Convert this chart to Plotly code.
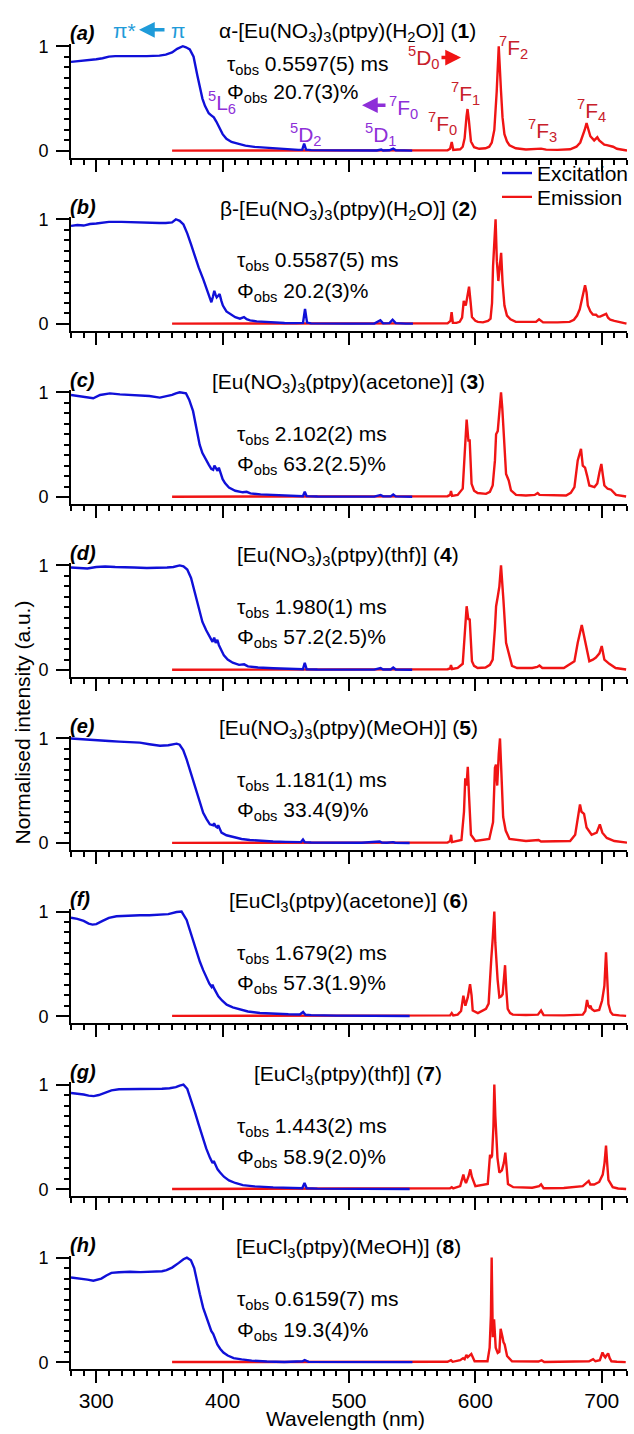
import plotly.graph_objects as go

# ---------------- data ----------------
PANEL_LETTERS = ["(a)", "(b)", "(c)", "(d)", "(e)", "(f)", "(g)", "(h)"]
TITLES = [
    "α-[Eu(NO<sub>3</sub>)<sub>3</sub>(ptpy)(H<sub>2</sub>O)] (<b>1</b>)",
    "β-[Eu(NO<sub>3</sub>)<sub>3</sub>(ptpy)(H<sub>2</sub>O)] (<b>2</b>)",
    "[Eu(NO<sub>3</sub>)<sub>3</sub>(ptpy)(acetone)] (<b>3</b>)",
    "[Eu(NO<sub>3</sub>)<sub>3</sub>(ptpy)(thf)] (<b>4</b>)",
    "[Eu(NO<sub>3</sub>)<sub>3</sub>(ptpy)(MeOH)] (<b>5</b>)",
    "[EuCl<sub>3</sub>(ptpy)(acetone)] (<b>6</b>)",
    "[EuCl<sub>3</sub>(ptpy)(thf)] (<b>7</b>)",
    "[EuCl<sub>3</sub>(ptpy)(MeOH)] (<b>8</b>)",
]
TAU = ["0.5597(5) ms", "0.5587(5) ms", "2.102(2) ms", "1.980(1) ms",
       "1.181(1) ms", "1.679(2) ms", "1.443(2) ms", "0.6159(7) ms"]
PHI = ["20.7(3)%", "20.2(3)%", "63.2(2.5)%", "57.2(2.5)%",
       "33.4(9)%", "57.3(1.9)%", "58.9(2.0)%", "19.3(4)%"]

EXC_A_NM = [280, 285, 290, 295, 300, 305, 310, 315, 320, 330, 340, 350, 355, 360, 364, 368.5, 371, 374, 377, 380, 382, 384, 386, 389, 391, 393, 395, 397, 400, 403, 407, 412, 418, 425, 435, 450, 460, 463, 464.5, 466, 470, 490, 510, 522, 525.5, 527, 532, 535, 537, 545, 550]
EXC_A_I = [0.85, 0.855, 0.86, 0.865, 0.875, 0.885, 0.9, 0.905, 0.905, 0.9, 0.905, 0.91, 0.92, 0.94, 0.975, 1.0, 0.99, 0.97, 0.9, 0.72, 0.6, 0.5, 0.43, 0.36, 0.34, 0.32, 0.28, 0.23, 0.16, 0.115, 0.085, 0.07, 0.05, 0.038, 0.028, 0.015, 0.01, 0.012, 0.07, 0.012, 0.007, 0.005, 0.004, 0.004, 0.013, 0.004, 0.006, 0.022, 0.006, 0.003, 0.003]
EMI_A_NM = [360, 450, 550, 578, 580, 581.3, 582.5, 588, 590, 591.5, 593, 593.8, 594.8, 596.5, 599, 603, 608, 611, 613, 615, 616.9, 618.5, 620.3, 621.5, 623, 625, 627, 632, 640, 648, 652, 656, 665, 675, 680, 683, 685, 686.5, 688, 689.5, 691, 694, 696.5, 698, 700, 702, 704, 707, 709, 712, 716, 720]
EMI_A_I = [0.003, 0.003, 0.003, 0.005, 0.02, 0.085, 0.01, 0.015, 0.04, 0.12, 0.33, 0.40, 0.3, 0.09, 0.035, 0.02, 0.025, 0.04, 0.08, 0.2, 0.57, 1.0, 0.57, 0.32, 0.16, 0.09, 0.054, 0.025, 0.013, 0.015, 0.022, 0.012, 0.01, 0.015, 0.04, 0.08, 0.14, 0.2, 0.265, 0.2, 0.14, 0.1, 0.13, 0.1, 0.076, 0.06, 0.055, 0.045, 0.04, 0.02, 0.01, 0.003]

EXC_B_NM = [280, 285, 290, 295, 300, 305, 310, 320, 330, 340, 350, 355, 360, 363, 366, 369, 372, 375, 378, 381, 384.7, 387, 389.5, 391.1, 392.3, 393.4, 394.4, 395.3, 396.5, 397.6, 399, 400.2, 403, 405.6, 410, 413.7, 416.9, 419, 421.7, 427, 433, 441, 449, 458, 463.6, 465.2, 466.8, 470, 481, 500, 520, 524.8, 527, 532, 534.5, 537, 545, 550.6]
EXC_B_I = [0.937, 0.945, 0.94, 0.955, 0.96, 0.965, 0.975, 0.975, 0.97, 0.97, 0.965, 0.965, 0.97, 1.0, 0.985, 0.95, 0.865, 0.76, 0.646, 0.54, 0.426, 0.35, 0.27, 0.207, 0.26, 0.317, 0.28, 0.254, 0.27, 0.285, 0.22, 0.176, 0.12, 0.097, 0.065, 0.05, 0.066, 0.045, 0.034, 0.025, 0.019, 0.014, 0.009, 0.008, 0.01, 0.144, 0.013, 0.006, 0.003, 0.003, 0.004, 0.035, 0.006, 0.008, 0.04, 0.008, 0.003, 0.003]
EMI_B_NM = [360, 450, 550, 578, 580.3, 581.2, 582.2, 585, 587.6, 589.5, 590.8, 592.4, 593.5, 595, 596.3, 597.3, 600, 602, 606, 610, 612, 613.2, 614, 615, 616, 617, 618.2, 619.3, 620.4, 621.5, 623, 625, 627.8, 632, 642.3, 648, 650.4, 653.6, 665, 674.6, 678, 680.5, 682.6, 684.5, 686.8, 688, 689, 691, 693, 695.5, 697, 698.7, 701, 703.5, 705, 706.8, 710, 714, 719.6]
EMI_B_I = [0.003, 0.003, 0.003, 0.006, 0.03, 0.113, 0.01, 0.01, 0.02, 0.06, 0.22, 0.176, 0.25, 0.357, 0.2, 0.066, 0.03, 0.02, 0.015, 0.03, 0.05, 0.2, 0.55, 0.8, 1.0, 0.6, 0.41, 0.55, 0.68, 0.4, 0.176, 0.08, 0.044, 0.02, 0.02, 0.02, 0.044, 0.015, 0.015, 0.02, 0.04, 0.08, 0.14, 0.25, 0.37, 0.3, 0.176, 0.12, 0.09, 0.088, 0.07, 0.07, 0.08, 0.097, 0.06, 0.04, 0.03, 0.02, 0.003]

EXC_C_NM = [280, 287, 292, 297.6, 303, 310.8, 318.7, 326, 334.5, 342, 350.3, 355.5, 360, 363, 366, 371, 373.5, 376.6, 379, 381.8, 384, 386.5, 389, 391, 392.5, 393.5, 394.7, 396, 397, 398.5, 400, 402, 405, 410, 416, 419, 422, 430, 440, 455, 463.5, 465, 466.5, 475, 500, 520, 525, 527, 533, 535, 537, 545, 550]
EXC_C_I = [0.975, 0.96, 0.955, 0.943, 0.975, 0.99, 0.98, 0.975, 0.97, 0.965, 0.95, 0.96, 0.975, 0.99, 1.0, 0.99, 0.93, 0.82, 0.68, 0.5, 0.42, 0.36, 0.31, 0.27, 0.26, 0.3, 0.27, 0.25, 0.28, 0.22, 0.17, 0.13, 0.09, 0.06, 0.045, 0.05, 0.035, 0.025, 0.018, 0.01, 0.008, 0.05, 0.008, 0.005, 0.004, 0.004, 0.02, 0.006, 0.006, 0.025, 0.006, 0.003, 0.003]
EMI_C_NM = [360, 450, 550, 578, 580, 580.7, 581.6, 586, 590, 591.8, 593.1, 594.5, 595.5, 597, 599, 601.8, 608.4, 611.5, 613.7, 615.5, 616.4, 617.7, 619, 620.3, 621.3, 622.2, 624.3, 626.4, 628.2, 632.2, 640, 647, 649.3, 650.7, 660, 671.8, 675.5, 678.4, 681, 683.6, 685, 686.8, 688.5, 690.2, 694.2, 696.5, 698.2, 699.7, 701, 702.1, 704.7, 707.4, 711.3, 719.3]
EMI_C_I = [0.003, 0.003, 0.003, 0.008, 0.02, 0.057, 0.01, 0.02, 0.08, 0.44, 0.74, 0.54, 0.54, 0.126, 0.06, 0.038, 0.03, 0.05, 0.11, 0.35, 0.6, 0.63, 0.8, 1.0, 0.85, 0.66, 0.22, 0.158, 0.063, 0.02, 0.015, 0.02, 0.038, 0.02, 0.015, 0.015, 0.04, 0.095, 0.35, 0.46, 0.3, 0.28, 0.2, 0.11, 0.095, 0.13, 0.237, 0.316, 0.2, 0.11, 0.079, 0.07, 0.02, 0.005]

EXC_D_NM = [280, 287, 293, 300, 307, 315, 322, 330, 340, 350, 356, 361, 366, 369, 372, 375, 378, 381, 384, 387, 390, 392, 393.3, 394.5, 395.8, 397, 399, 401, 404, 408, 413, 417, 420, 428, 440, 455, 463.5, 465, 466.5, 475, 500, 520, 525, 527, 533, 535, 537, 545, 550]
EXC_D_I = [0.98, 0.975, 0.97, 0.985, 0.99, 0.985, 0.98, 0.98, 0.975, 0.975, 0.98, 0.985, 1.0, 0.99, 0.96, 0.88, 0.74, 0.58, 0.46, 0.38, 0.31, 0.27, 0.31, 0.26, 0.29, 0.24, 0.19, 0.14, 0.1, 0.07, 0.05, 0.055, 0.035, 0.025, 0.018, 0.01, 0.008, 0.07, 0.008, 0.005, 0.004, 0.004, 0.02, 0.006, 0.006, 0.025, 0.006, 0.003, 0.003]
EMI_D_NM = [360, 450, 550, 578, 580, 580.7, 581.6, 586, 590, 591.8, 593.1, 594.5, 595.5, 597.3, 599, 601.8, 608, 611.5, 613.7, 615.5, 616.4, 617.7, 619, 620.3, 621.3, 622.2, 624.3, 626.4, 629, 633, 645, 649, 650.7, 653, 670, 678.4, 681, 684.2, 686.3, 688, 690.2, 693, 695.4, 698.2, 700, 702.1, 706, 711, 719.3]
EMI_D_I = [0.003, 0.003, 0.003, 0.008, 0.015, 0.047, 0.01, 0.02, 0.06, 0.354, 0.61, 0.48, 0.49, 0.085, 0.04, 0.02, 0.025, 0.05, 0.1, 0.4, 0.61, 0.7, 0.8, 1.0, 0.85, 0.67, 0.26, 0.15, 0.04, 0.02, 0.02, 0.03, 0.044, 0.02, 0.02, 0.085, 0.26, 0.43, 0.32, 0.2, 0.085, 0.1, 0.12, 0.16, 0.23, 0.1, 0.06, 0.02, 0.005]

EXC_E_NM = [280, 285, 290, 296, 302, 310, 318, 326, 334.5, 342, 350.4, 357, 363.6, 366, 368.8, 371.5, 374, 376.7, 379.4, 382, 384.6, 387.3, 389.9, 392.5, 393.2, 394.5, 395.7, 396.5, 397.5, 399.1, 403, 408.3, 415, 421.5, 430, 439.9, 450, 462, 463.6, 465, 470, 490, 510, 524.3, 526, 530, 534.8, 536.5, 548]
EXC_E_I = [1.0, 0.995, 0.99, 0.985, 0.98, 0.975, 0.97, 0.965, 0.96, 0.945, 0.93, 0.935, 0.95, 0.94, 0.89, 0.8, 0.7, 0.59, 0.48, 0.38, 0.29, 0.23, 0.18, 0.17, 0.19, 0.16, 0.15, 0.17, 0.14, 0.1, 0.075, 0.057, 0.04, 0.03, 0.022, 0.016, 0.012, 0.01, 0.035, 0.01, 0.006, 0.004, 0.004, 0.016, 0.005, 0.004, 0.01, 0.004, 0.002]
EMI_E_NM = [360, 450, 550, 578, 580, 580.8, 581.5, 589, 591, 592, 593, 594, 595, 596.5, 600, 611, 614, 615.5, 616.3, 617.3, 618.5, 619.5, 620.5, 622, 624, 627, 640, 650, 652, 675, 679, 681, 682.8, 684, 686, 688, 692, 696, 698.5, 700.5, 704, 710, 720]
EMI_E_I = [0.003, 0.003, 0.003, 0.006, 0.02, 0.08, 0.01, 0.03, 0.3, 0.62, 0.55, 0.73, 0.45, 0.08, 0.02, 0.04, 0.2, 0.72, 0.75, 0.55, 0.85, 1.0, 0.7, 0.25, 0.12, 0.04, 0.02, 0.03, 0.015, 0.02, 0.08, 0.25, 0.37, 0.3, 0.28, 0.15, 0.08, 0.1, 0.18, 0.1, 0.05, 0.02, 0.005]

EXC_F_NM = [280, 285, 290, 294, 297, 300, 305, 310, 316, 322, 330, 334.5, 342, 350.4, 357, 363.6, 367.5, 371.5, 374, 376.8, 379.5, 382, 384.6, 387.3, 389.5, 391.2, 392, 393, 394.5, 396.6, 399.5, 403.2, 408, 413.7, 420, 429.5, 440, 452, 461.1, 463.7, 465.5, 470, 490, 520, 525, 528, 535, 537, 548]
EXC_F_I = [0.94, 0.93, 0.91, 0.885, 0.875, 0.88, 0.91, 0.94, 0.955, 0.96, 0.965, 0.964, 0.965, 0.97, 0.975, 0.995, 1.0, 0.92, 0.82, 0.71, 0.61, 0.52, 0.44, 0.36, 0.31, 0.28, 0.3, 0.27, 0.24, 0.19, 0.15, 0.11, 0.085, 0.063, 0.045, 0.03, 0.022, 0.018, 0.016, 0.04, 0.014, 0.01, 0.006, 0.005, 0.008, 0.005, 0.004, 0.006, 0.002]
EMI_F_NM = [360, 450, 550, 575, 580, 581.3, 582.5, 586, 588.7, 590.5, 591.3, 592.1, 594, 595.8, 597, 597.9, 602, 608.4, 610.5, 611.6, 612.6, 613.8, 615, 615.8, 616.4, 617.6, 619, 620.5, 621.6, 622.7, 623.5, 624.5, 625.6, 627.5, 629.6, 640, 649.5, 652, 654, 670, 685, 687, 688.4, 689.3, 690.2, 691.1, 692, 694.2, 698, 700.3, 702.1, 703.4, 704.3, 705.3, 707, 708.7, 714, 719.3]
EMI_F_I = [0.003, 0.003, 0.003, 0.005, 0.008, 0.03, 0.008, 0.015, 0.05, 0.196, 0.15, 0.1, 0.18, 0.306, 0.2, 0.054, 0.03, 0.07, 0.12, 0.4, 0.55, 0.75, 1.0, 0.7, 0.54, 0.35, 0.18, 0.19, 0.21, 0.35, 0.487, 0.25, 0.07, 0.03, 0.015, 0.012, 0.015, 0.054, 0.01, 0.008, 0.015, 0.05, 0.155, 0.1, 0.085, 0.1, 0.07, 0.05, 0.06, 0.15, 0.29, 0.61, 0.4, 0.117, 0.04, 0.015, 0.008, 0.003]

EXC_G_NM = [280, 285, 290, 294, 298, 302, 307, 312, 318, 325, 335, 345, 352, 358, 363, 366, 369, 372, 375, 378, 381, 384, 387, 390, 392, 393, 394.5, 396, 398, 401, 405, 410, 416, 425, 440, 455, 463, 464.8, 466.5, 475, 500, 520, 526, 530, 535, 537, 548]
EXC_G_I = [0.92, 0.915, 0.905, 0.895, 0.89, 0.9, 0.925, 0.945, 0.955, 0.955, 0.955, 0.955, 0.96, 0.965, 0.975, 0.99, 1.0, 0.96, 0.86, 0.74, 0.62, 0.5, 0.39, 0.3, 0.25, 0.27, 0.22, 0.19, 0.16, 0.12, 0.085, 0.06, 0.04, 0.028, 0.018, 0.012, 0.01, 0.06, 0.01, 0.006, 0.004, 0.004, 0.008, 0.004, 0.007, 0.005, 0.002]
EMI_G_NM = [360, 450, 550, 575, 580, 581.3, 582.5, 588, 590.5, 591.5, 592.6, 594.5, 596, 597.2, 600, 609.8, 611, 611.6, 612.4, 613.2, 614.3, 615, 615.8, 616.4, 617.5, 619, 621, 622.5, 623.7, 624.8, 625.8, 630, 645, 650.5, 652, 654, 670, 685, 688.2, 689.7, 691, 694, 698, 700.8, 702.2, 703.4, 704.3, 705.3, 708.7, 713, 719.3]
EMI_G_I = [0.003, 0.003, 0.003, 0.005, 0.01, 0.02, 0.008, 0.03, 0.14, 0.09, 0.06, 0.12, 0.19, 0.12, 0.03, 0.05, 0.2, 0.33, 0.3, 0.32, 0.6, 1.0, 0.7, 0.5, 0.3, 0.16, 0.18, 0.25, 0.35, 0.2, 0.05, 0.02, 0.015, 0.03, 0.047, 0.01, 0.012, 0.03, 0.06, 0.08, 0.045, 0.045, 0.07, 0.14, 0.25, 0.417, 0.25, 0.09, 0.02, 0.008, 0.003]

EXC_H_NM = [280, 288, 293, 297.7, 304, 308, 312, 318, 326.7, 335, 346, 352, 355.6, 360, 365.3, 369, 371.7, 374.9, 377.5, 379.7, 382, 384.6, 387, 389.4, 391, 392.6, 394, 395.8, 398, 400.6, 404, 408.7, 415, 423, 435, 448.9, 463.3, 464.9, 468, 480, 500, 520, 535, 550.2]
EXC_H_I = [0.81, 0.80, 0.79, 0.78, 0.80, 0.83, 0.855, 0.86, 0.865, 0.862, 0.865, 0.87, 0.88, 0.905, 0.95, 0.985, 1.0, 0.975, 0.9, 0.77, 0.65, 0.52, 0.43, 0.34, 0.3, 0.27, 0.23, 0.17, 0.13, 0.094, 0.065, 0.04, 0.028, 0.016, 0.008, 0.003, 0.01, 0.022, 0.004, 0.003, 0.003, 0.003, 0.005, 0.002]
EMI_H_NM = [360, 450, 550, 578, 580.7, 582, 588, 590.3, 591.5, 592.9, 594, 595.2, 596.8, 599.4, 609.6, 611.3, 612.3, 612.9, 613.4, 613.8, 614.8, 615.5, 616.1, 617.7, 619, 620, 620.8, 621.5, 622.3, 623.2, 625.1, 629, 650, 652.4, 654.5, 683.6, 690, 693.2, 695, 698.5, 700.6, 702, 702.8, 704, 705.1, 706.3, 707.7, 712, 719]
EMI_H_I = [0.003, 0.003, 0.003, 0.005, 0.02, 0.005, 0.02, 0.04, 0.03, 0.07, 0.05, 0.06, 0.08, 0.01, 0.01, 0.14, 0.45, 1.0, 0.5, 0.24, 0.41, 0.25, 0.14, 0.09, 0.1, 0.32, 0.25, 0.24, 0.19, 0.17, 0.06, 0.01, 0.008, 0.02, 0.003, 0.003, 0.01, 0.03, 0.01, 0.02, 0.094, 0.06, 0.047, 0.07, 0.085, 0.04, 0.01, 0.005, 0.002]

EXCITATION = [(EXC_A_NM, EXC_A_I), (EXC_B_NM, EXC_B_I), (EXC_C_NM, EXC_C_I), (EXC_D_NM, EXC_D_I),
              (EXC_E_NM, EXC_E_I), (EXC_F_NM, EXC_F_I), (EXC_G_NM, EXC_G_I), (EXC_H_NM, EXC_H_I)]
EMISSION = [(EMI_A_NM, EMI_A_I), (EMI_B_NM, EMI_B_I), (EMI_C_NM, EMI_C_I), (EMI_D_NM, EMI_D_I),
            (EMI_E_NM, EMI_E_I), (EMI_F_NM, EMI_F_I), (EMI_G_NM, EMI_G_I), (EMI_H_NM, EMI_H_I)]

# ---------------- layout geometry (pixels) ----------------
W, H = 634, 1434
ML, MR = 71, 7
PW = W - ML - MR
Y0_FIRST, PANEL_STEP, UNIT = 144.0, 174.4, 105.5
YMIN, YMAX = -0.065, 1.02
FONT = "Liberation Sans, Arial, Helvetica, sans-serif"
BLUE, RED = "#1010d8", "#f01414"
LBL_BLUE, LBL_PURPLE, LBL_RED = "#1f9bd9", "#8e2fd8", "#c8202a"


def px(x, y):
    return (x - ML) / PW, 1 - y / H


fig = go.Figure()
layout = dict(width=W, height=H, margin=dict(l=ML, r=MR, t=0, b=0),
              paper_bgcolor="white", plot_bgcolor="white",
              font=dict(family=FONT, color="black", size=20),
              showlegend=True)
annotations = []

for k in range(8):
    sfx = "" if k == 0 else str(k + 1)
    y0 = Y0_FIRST + PANEL_STEP * k
    top_px = y0 - YMAX * UNIT
    bot_px = y0 - YMIN * UNIT
    layout["xaxis" + sfx] = dict(
        domain=[0, 1], range=[280, 720], anchor="y" + sfx,
        showline=True, linecolor="black", linewidth=2, mirror=False,
        ticks="outside", ticklen=12, tickwidth=2, tickcolor="black",
        tick0=0, dtick=100, showticklabels=(k == 7), tickfont=dict(size=21),
        showgrid=False, zeroline=False,
        minor=dict(dtick=10, ticklen=5, tickwidth=2, tickcolor="black", ticks="outside", showgrid=False))
    layout["yaxis" + sfx] = dict(
        domain=[1 - bot_px / H, 1 - top_px / H], range=[YMIN, YMAX], anchor="x" + sfx,
        showline=True, linecolor="black", linewidth=2,
        ticks="outside", ticklen=13, tickwidth=2, tickcolor="black",
        tick0=0, dtick=1, tickfont=dict(size=18), ticklabelstandoff=4,
        showgrid=False, zeroline=False,
        minor=dict(dtick=0.1, ticklen=5, tickwidth=2, tickcolor="black", ticks="outside", showgrid=False))

    en, ei = EMISSION[k]
    xn, xi = EXCITATION[k]
    fig.add_trace(go.Scatter(x=en, y=ei, mode="lines", line=dict(color=RED, width=2.4),
                             name="Emission", legend="legend2", showlegend=(k == 0),
                             xaxis="x" + sfx, yaxis="y" + sfx))
    fig.add_trace(go.Scatter(x=xn, y=xi, mode="lines", line=dict(color=BLUE, width=2.4),
                             name="Excitation", legend="legend", showlegend=(k == 0),
                             xaxis="x" + sfx, yaxis="y" + sfx))

    # panel letter
    lx, ly = px(68, y0 - 118 if k else 25)
    annotations.append(dict(x=lx, y=ly, xref="paper", yref="paper", xanchor="left", yanchor="middle",
                            text="<b><i>" + PANEL_LETTERS[k] + "</i></b>", showarrow=False,
                            font=dict(size=20)))
    # title
    tx, ty = px(347 if k == 0 else 348, 24 if k == 0 else y0 - 115)
    annotations.append(dict(x=tx, y=ty, xref="paper", yref="paper", xanchor="center", yanchor="middle",
                            text=TITLES[k], showarrow=False, font=dict(size=21)))
    # tau / phi
    sx = 225 if k == 0 else 235
    t1x, t1y = px(sx, 57 if k == 0 else y0 - 63)
    t2x, t2y = px(sx, 86 if k == 0 else y0 - 32)
    annotations.append(dict(x=t1x, y=t1y, xref="paper", yref="paper", xanchor="left", yanchor="middle",
                            text="τ<sub>obs</sub> " + TAU[k], showarrow=False, font=dict(size=21)))
    annotations.append(dict(x=t2x, y=t2y, xref="paper", yref="paper", xanchor="left", yanchor="middle",
                            text="Φ<sub>obs</sub> " + PHI[k], showarrow=False, font=dict(size=21)))

# transition labels of panel (a)
LABELS_A = [
    ("π*", 124, 23, LBL_BLUE), ("π", 178, 23, LBL_BLUE),
    ("<sup>5</sup>L<sub>6</sub>", 222, 95, LBL_PURPLE),
    ("<sup>5</sup>D<sub>2</sub>", 306, 127, LBL_PURPLE),
    ("<sup>5</sup>D<sub>1</sub>", 381, 127, LBL_PURPLE),
    ("<sup>7</sup>F<sub>0</sub>", 403, 100, LBL_PURPLE),
    ("<sup>5</sup>D<sub>0</sub>", 424, 50, LBL_RED),
    ("<sup>7</sup>F<sub>0</sub>", 442, 116, LBL_RED),
    ("<sup>7</sup>F<sub>1</sub>", 465, 86, LBL_RED),
    ("<sup>7</sup>F<sub>2</sub>", 513, 40, LBL_RED),
    ("<sup>7</sup>F<sub>3</sub>", 542, 123, LBL_RED),
    ("<sup>7</sup>F<sub>4</sub>", 591, 103, LBL_RED),
]
for txt, x, y, c in LABELS_A:
    ax_, ay_ = px(x, y)
    annotations.append(dict(x=ax_, y=ay_, xref="paper", yref="paper", xanchor="center", yanchor="middle",
                            text=txt, showarrow=False, font=dict(size=21, color=c)))

ARROWS_A = [  # head x, head y, tail x, colour
    (139, 22, 166, LBL_BLUE),
    (362, 98, 387, LBL_PURPLE),
    (461, 50, 440, RED),
]
for hx, hy, tx_, c in ARROWS_A:
    ax_, ay_ = px(hx, hy)
    annotations.append(dict(x=ax_, y=ay_, xref="paper", yref="paper", text="", showarrow=True,
                            ax=tx_ - hx, ay=0, axref="pixel", ayref="pixel",
                            arrowhead=2, arrowsize=0.9, arrowwidth=3.5, arrowcolor=c, standoff=0))

# axis titles
xt, yt = px(345, 1421)
annotations.append(dict(x=xt, y=yt, xref="paper", yref="paper", text="Wavelength (nm)", showarrow=False,
                        xanchor="center", yanchor="middle", font=dict(size=21)))
yx, yy = px(22, 720)
annotations.append(dict(x=yx, y=yy, xref="paper", yref="paper", text="Normalised intensity (a.u.)",
                        showarrow=False, textangle=-90, xanchor="center", yanchor="middle",
                        font=dict(size=21)))

l1x, l1y = px(497, 146)
l2x, l2y = px(497, 170)
legend_style = dict(xanchor="left", yanchor="top", bgcolor="rgba(0,0,0,0)",
                    font=dict(size=21), borderwidth=0, itemwidth=30)
layout["legend"] = dict(x=l1x, y=l1y, **legend_style)
layout["legend2"] = dict(x=l2x, y=l2y, **legend_style)
layout["annotations"] = annotations
fig.update_layout(**layout)
fig.write_html("out.html", config={"displayModeBar": False},
               post_script="document.body.style.margin='0px';document.body.style.overflow='hidden';")
